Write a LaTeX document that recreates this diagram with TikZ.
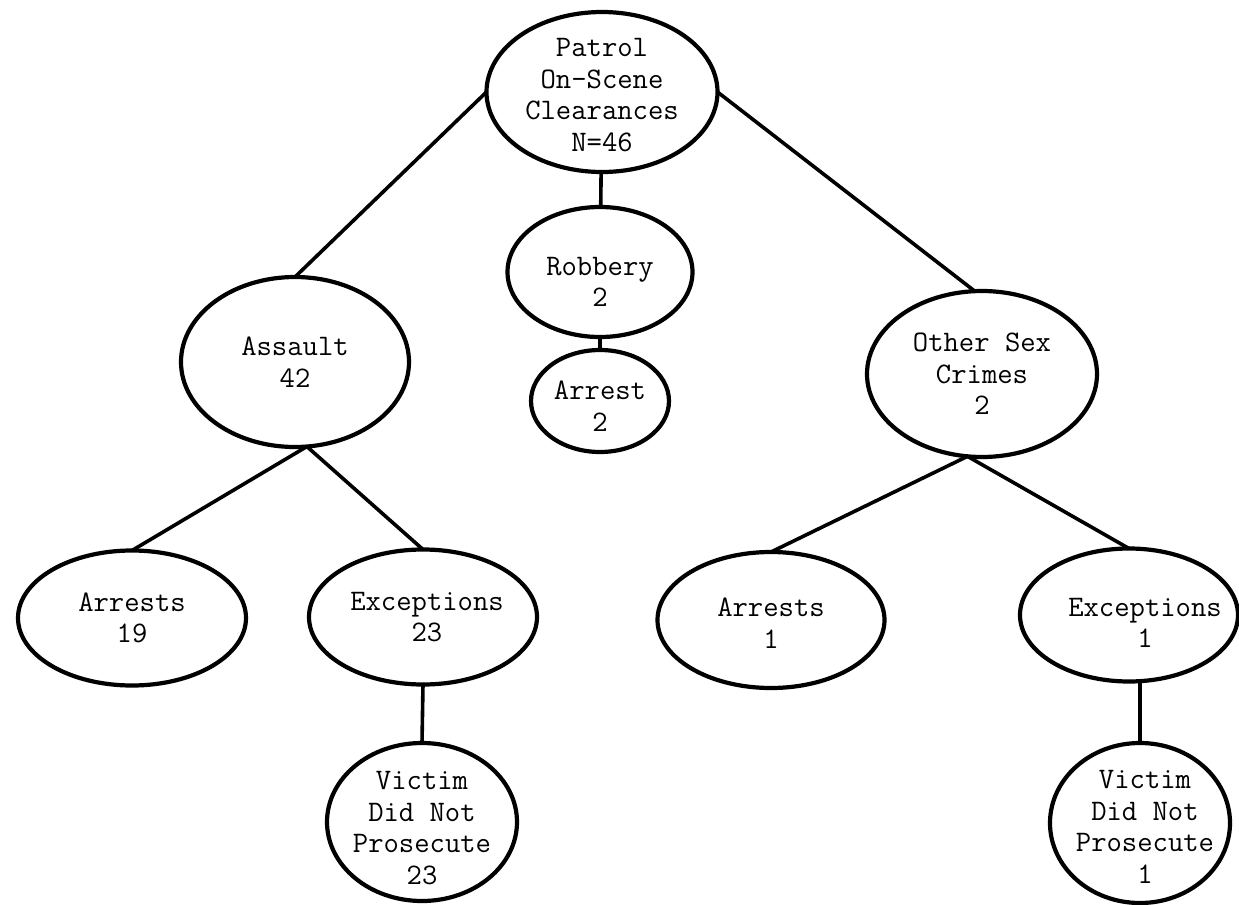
\documentclass[tikz,border=0pt]{standalone}
\usetikzlibrary{shapes.geometric}
\begin{document}
\begin{tikzpicture}[x=0.5pt,y=-0.5pt,
  oval/.style 2 args={ellipse, draw=black, line width=2.1pt, inner sep=0pt,
    outer sep=0pt, minimum width=#1*0.5pt, minimum height=#2*0.5pt},
  txt/.style={font=\fontsize{14.9}{15.75}\selectfont\ttfamily, align=center,
    inner sep=0pt},
  link/.style={line width=1.8pt, line cap=round}]
\useasboundingbox[fill=white] (0,0) rectangle (1239,905);

% top of the tree
\node[oval={231}{160}, label={[txt, yshift=-1.5pt]center:{Patrol\\On-Scene\\Clearances\\N=46}}] (patrol) at (602,92) {};

% middle branch
\node[oval={185}{130}, label={[txt, yshift=-5pt]center:{Robbery\\2}}] (robbery) at (600,272) {};
\node[oval={138}{102}, label={[txt, yshift=-2.5pt]center:{Arrest\\2}}] (arrest) at (600,401) {};

% left branch
\node[oval={228}{170}, label={[txt]center:{Assault\\42}}] (assault) at (295,362) {};
\node[oval={228}{135}, label={[txt]center:{Arrests\\19}}] (arr19) at (132,618) {};
\node[oval={228}{135}, label={[txt, xshift=2pt]center:{Exceptions\\23}}] (exc23) at (423,617) {};
\node[oval={190}{158}, label={[txt, yshift=-3pt]center:{Victim\\Did Not\\Prosecute\\23}}] (vic23) at (422,822) {};

% right branch
\node[oval={230}{166}, label={[txt]center:{Other Sex\\Crimes\\2}}] (other) at (982,374) {};
\node[oval={227}{136}, label={[txt, yshift=-1.5pt]center:{Arrests\\1}}] (arr1) at (771,620) {};
\node[oval={218}{133}, label={[txt, xshift=8pt, yshift=-4pt]center:{Exceptions\\1}}] (exc1) at (1129,615) {};
\node[oval={180}{160}, label={[txt, xshift=2.5pt, yshift=-2pt]center:{Victim\\Did Not\\Prosecute\\1}}] (vic1) at (1140,823) {};

% connectors
\draw[link] (patrol.west) -- (assault.north);
\draw[link] (patrol.east) -- (other.95);
\draw[link] (patrol) -- (robbery);
\draw[link] (robbery) -- (arrest);
\draw[link] (assault.-82) -- (arr19.north);
\draw[link] (assault.-82) -- (exc23.north);
\draw[link] (other.-100) -- (arr1.north);
\draw[link] (other.-100) -- (exc1.north);
\draw[link] (exc23.south) -- (vic23.north);
\draw[link] (vic1.north) -- (vic1.north |- exc1.south);
\end{tikzpicture}
\end{document}
